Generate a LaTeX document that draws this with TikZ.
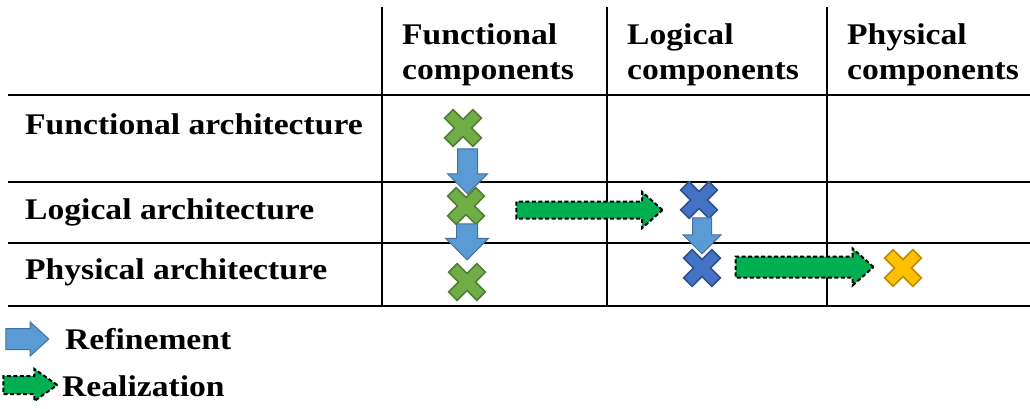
\documentclass[tikz,border=0pt]{standalone}
\usepackage{fontspec}
\setmainfont{Liberation Serif}[FakeStretch=1.12]
\usetikzlibrary{shapes.arrows}

\definecolor{fgreen}{HTML}{70AD47}
\definecolor{fgreenline}{HTML}{507E32}
\definecolor{lblue}{HTML}{4472C4}
\definecolor{lblueline}{HTML}{2F528F}
\definecolor{pyellow}{HTML}{FFC000}
\definecolor{pyellowline}{HTML}{BC8C00}
\definecolor{refblue}{HTML}{5B9BD5}
\definecolor{refblueline}{HTML}{41719C}
\definecolor{realgreen}{HTML}{00B050}

% cross mark: name, position, colour style
\newcommand\xmark[3]{%
  \node[xspot] (#1) at (#2) {};
  \draw[#3, shift={(#1.center)}, rotate=45] (6,20) -- (6,6) -- (20,6) -- (20,-6) -- (6,-6) -- (6,-20)
    -- (-6,-20) -- (-6,-6) -- (-20,-6) -- (-20,6) -- (-6,6) -- (-6,20) -- cycle;
}

\begin{document}
\begin{tikzpicture}[
x=1pt, y=-1pt,
txt/.style={
  font=\fontsize{30}{35}\selectfont\bfseries,
  inner sep=0pt,
  anchor=base west
  },
head/.style={
  txt,
  align=left,
  anchor=north west
  },
grid/.style={line width=2pt},
xspot/.style={inner sep=0pt, minimum size=30pt},
funcx/.style={fill=fgreen, draw=fgreenline, line width=1.5pt},
logx/.style={fill=lblue, draw=lblueline, line width=1.5pt},
physx/.style={fill=pyellow, draw=pyellowline, line width=1.5pt},
refine/.style={
  single arrow,
  fill=refblue,
  draw=refblueline,
  line width=1pt,
  inner xsep=0pt,
  anchor=tip,
  single arrow tip angle=90
  },
realize/.style={
  single arrow,
  fill=realgreen,
  draw=black,
  dash pattern=on 4pt off 2.5pt,
  line width=2pt,
  inner xsep=0pt,
  anchor=tip,
  single arrow tip angle=83
  }
]
\useasboundingbox (0,0) rectangle (1030,409);

% table
\foreach \ly in {95,182,243,306}
  \draw[grid] (8,\ly) -- (1030,\ly);
\foreach \lx in {382,607,827}
  \draw[grid] (\lx,7) -- (\lx,306);

% headings
\node[head] (hfunc) at (402,23) {Functional\\components};
\node[head] (hlog) at (627,23) {Logical\\components};
\node[head] (hphys) at (847,23) {Physical\\components};
\node[txt] (afunc) at (25,135) {Functional architecture};
\node[txt] (alog) at (25,219) {Logical architecture};
\node[txt] (aphys) at (25,279) {Physical architecture};

% components
\xmark{fc1}{463,128}{funcx}
\xmark{fc2}{466,206}{funcx}
\xmark{fc3}{467,282}{funcx}
\xmark{lc1}{699,200}{logx}
\xmark{lc2}{702,268}{logx}
\xmark{pc1}{903,268}{physx}

% refinement and realization
\node[refine, rotate=-90, minimum height=45pt, inner ysep=9.5pt, single arrow head extend=10pt] (ref1) at (467.5,194.5) {};
\node[refine, rotate=-90, minimum height=36pt, inner ysep=10pt, single arrow head extend=11pt] (ref2) at (467,260.5) {};
\node[refine, rotate=-90, minimum height=36pt, inner ysep=9pt, single arrow head extend=9.5pt] (ref3) at (702,254.5) {};
\node[realize, minimum height=146pt, inner ysep=7.5pt, single arrow head extend=9.5pt] (real1) at (664,210) {};
\node[realize, minimum height=138pt, inner ysep=9.5pt, single arrow head extend=8pt] (real2) at (875,267) {};

% legend
\node[refine, minimum height=43pt, inner ysep=10pt, single arrow head extend=6.5pt, single arrow tip angle=85] (legref) at (49.5,339) {};
\node[txt] (tref) at (65,349) {Refinement};
\node[realize, minimum height=54pt, inner ysep=8pt, single arrow head extend=7pt, single arrow tip angle=70] (legreal) at (59,385) {};
\node[txt] (treal) at (62,396) {Realization};

\end{tikzpicture}
\end{document}
